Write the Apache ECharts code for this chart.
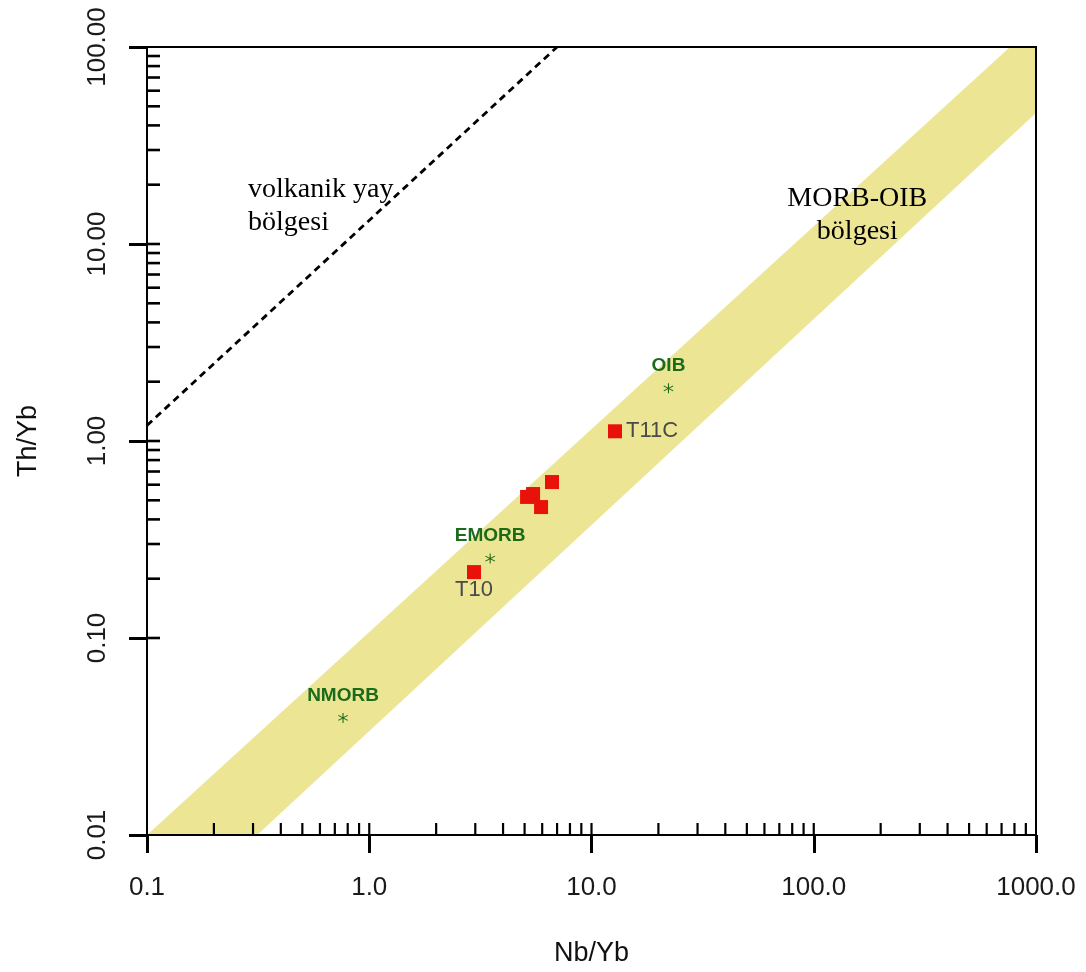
<!DOCTYPE html>
<html><head><meta charset="utf-8">
<script src="https://cdn.jsdelivr.net/npm/echarts@6/dist/echarts.min.js"></script>
<style>html,body{margin:0;padding:0;background:#fff}#chart{width:1086px;height:972px}</style>
</head><body><div id="chart"></div>
<script>
// ---- axis ticks ----
const xTickValues = [0.1, 1, 10, 100, 1000];
const xTickLabels = ['0.1', '1.0', '10.0', '100.0', '1000.0'];
const yTickValues = [0.01, 0.1, 1, 10, 100];
const yTickLabels = ['0.01', '0.10', '1.00', '10.00', '100.00'];
const minorMultipliers = [2, 3, 4, 5, 6, 7, 8, 9];
const xMinorDecades = [0.1, 1, 10, 100];
const xInnerMajors = [1, 10, 100];
const yMinorDecades = [0.1, 1, 10];
const yInnerMajors = [0.1, 1, 10];

// ---- samples (red squares) ----
const sampleNames = ['T10', '', '', '', '', 'T11C'];
const sampleNbYb = [2.96, 5.13, 5.46, 5.93, 6.64, 12.76];
const sampleThYb = [0.216, 0.520, 0.538, 0.462, 0.619, 1.12];

// ---- reference compositions (green asterisks) ----
const refNames = ['NMORB', 'EMORB', 'OIB'];
const refNbYb = [0.762, 3.50, 22.2];
const refThYb = [0.0393, 0.253, 1.85];

// ---- MORB-OIB array (yellow band) vertices ----
const bandNbYb = [0.1, 0.313, 1000, 1000, 764];
const bandThYb = [0.01, 0.01, 46.2, 100, 100];

// ---- volcanic arc boundary (dashed) ----
const arcNbYb = [0.1, 7.0];
const arcThYb = [1.2, 100];

// ---- region labels ----
const regionTexts = ['volkanik yay\nbölgesi', 'MORB-OIB\nbölgesi'];
const regionNbYb = [0.285, 157];
const regionThYb = [23.0, 20.6];
const regionAlign = ['left', 'center'];

const xInner = [];
xMinorDecades.forEach(d => minorMultipliers.forEach(m => xInner.push(d * m)));
xInnerMajors.forEach(v => xInner.push(v));
const yInner = [];
yMinorDecades.forEach(d => minorMultipliers.forEach(m => yInner.push(d * m)));
yInnerMajors.forEach(v => yInner.push(v));

function fmt(values, labels) {
  return function (v) {
    const lv = Math.log10(v);
    for (let i = 0; i < values.length; i++) {
      if (Math.abs(Math.log10(values[i]) - lv) < 1e-6) return labels[i];
    }
    return '';
  };
}

const asteriskPath = 'path://M9 0 L11 0 L11 20 L9 20 Z M1.84 4.13 L19.16 14.13 L18.16 15.87 L0.84 5.87 Z M0.84 14.13 L18.16 4.13 L19.16 5.87 L1.84 15.87 Z';
const green = '#1c6a1c';
const sans = "'Liberation Sans', Arial, sans-serif";
const serif = "'Liberation Serif', 'Times New Roman', serif";

const chart = echarts.init(document.getElementById('chart'), null, {renderer: 'canvas'});
const option = {
  animation: false,
  backgroundColor: '#fff',
  grid: {
    left: 147, right: 50, top: 47, bottom: 137,
    containLabel: false, outerBoundsMode: 'none',
    show: true, z: 10, backgroundColor: 'transparent',
    borderColor: '#000', borderWidth: 2
  },
  xAxis: {
    type: 'log', logBase: 10, min: 0.1, max: 1000, z: 10,
    axisLine: {lineStyle: {color: '#000', width: 2}},
    axisTick: {inside: false, length: 18, lineStyle: {color: '#000', width: 3}},
    axisLabel: {margin: 40, fontSize: 26, color: '#1a1a1a', fontFamily: sans,
      formatter: fmt(xTickValues, xTickLabels)},
    splitLine: {show: false},
    minorTick: {show: false},
    name: 'Nb/Yb', nameLocation: 'middle', nameGap: 105,
    nameTextStyle: {fontSize: 27, color: '#111', fontFamily: sans}
  },
  yAxis: {
    type: 'log', logBase: 10, min: 0.01, max: 100, z: 10,
    axisLine: {lineStyle: {color: '#000', width: 2}},
    axisTick: {inside: false, length: 18, lineStyle: {color: '#000', width: 3}},
    axisLabel: {margin: 36, fontSize: 26, rotate: 90, color: '#1a1a1a', fontFamily: sans,
      formatter: fmt(yTickValues, yTickLabels)},
    splitLine: {show: false},
    minorTick: {show: false},
    name: 'Th/Yb', nameLocation: 'middle', nameGap: 105,
    nameTextStyle: {fontSize: 27, color: '#111', fontFamily: sans}
  },
  series: [
    {
      type: 'custom', name: 'MORB-OIB band', z: 1, silent: true,
      data: [[bandNbYb[0], bandThYb[0]]],
      renderItem: function (params, api) {
        const pts = bandNbYb.map((x, i) => api.coord([x, bandThYb[i]]));
        return {type: 'polygon', shape: {points: pts}, style: {fill: '#ece593'}};
      }
    },
    {
      type: 'line', name: 'arc boundary', z: 3, silent: true, symbol: 'none',
      data: arcNbYb.map((x, i) => [x, arcThYb[i]]),
      lineStyle: {color: '#000', width: 2.8, type: [7, 5]}
    },
    {
      type: 'custom', name: 'x inner ticks', z: 11, silent: true, clip: false,
      data: xInner.map(v => [v, 0.01]),
      renderItem: function (params, api) {
        const p = api.coord([api.value(0), api.value(1)]);
        return {type: 'line', shape: {x1: p[0], y1: p[1], x2: p[0], y2: p[1] - 12},
          style: {stroke: '#000', lineWidth: 2.2}};
      }
    },
    {
      type: 'custom', name: 'y inner ticks', z: 11, silent: true, clip: false,
      data: yInner.map(v => [0.1, v]),
      renderItem: function (params, api) {
        const p = api.coord([api.value(0), api.value(1)]);
        return {type: 'line', shape: {x1: p[0], y1: p[1], x2: p[0] + 13, y2: p[1]},
          style: {stroke: '#000', lineWidth: 2.6}};
      }
    },
    {
      type: 'scatter', name: 'reference', z: 5,
      symbol: asteriskPath, symbolSize: 10,
      itemStyle: {color: green, opacity: 1},
      label: {show: true, position: 'top', distance: 8, color: green,
        fontWeight: 'bold', fontSize: 19, fontFamily: sans,
        formatter: p => refNames[p.dataIndex]},
      data: refNbYb.map((x, i) => [x, refThYb[i]])
    },
    {
      type: 'scatter', name: 'samples', z: 6,
      symbol: 'rect', symbolSize: 14,
      itemStyle: {color: '#e8120b', opacity: 1},
      label: {show: true, color: '#4a4a4a', fontSize: 22, fontFamily: sans,
        formatter: p => sampleNames[p.dataIndex]},
      data: sampleNbYb.map((x, i) => {
        const item = {value: [x, sampleThYb[i]]};
        if (sampleNames[i] === 'T11C') item.label = {position: 'right', distance: 4};
        else if (sampleNames[i] === 'T10') item.label = {position: 'bottom', distance: 0};
        return item;
      })
    },
    {
      type: 'scatter', name: 'region labels', z: 4, silent: true,
      symbolSize: 0, itemStyle: {opacity: 1},
      label: {show: true, position: 'inside', verticalAlign: 'top',
        color: '#000', fontSize: 28, lineHeight: 33, fontFamily: serif,
        formatter: p => regionTexts[p.dataIndex]},
      data: regionNbYb.map((x, i) => ({value: [x, regionThYb[i]],
        label: {align: regionAlign[i]}}))
    }
  ]
};
chart.setOption(option);
</script>
</body></html>
